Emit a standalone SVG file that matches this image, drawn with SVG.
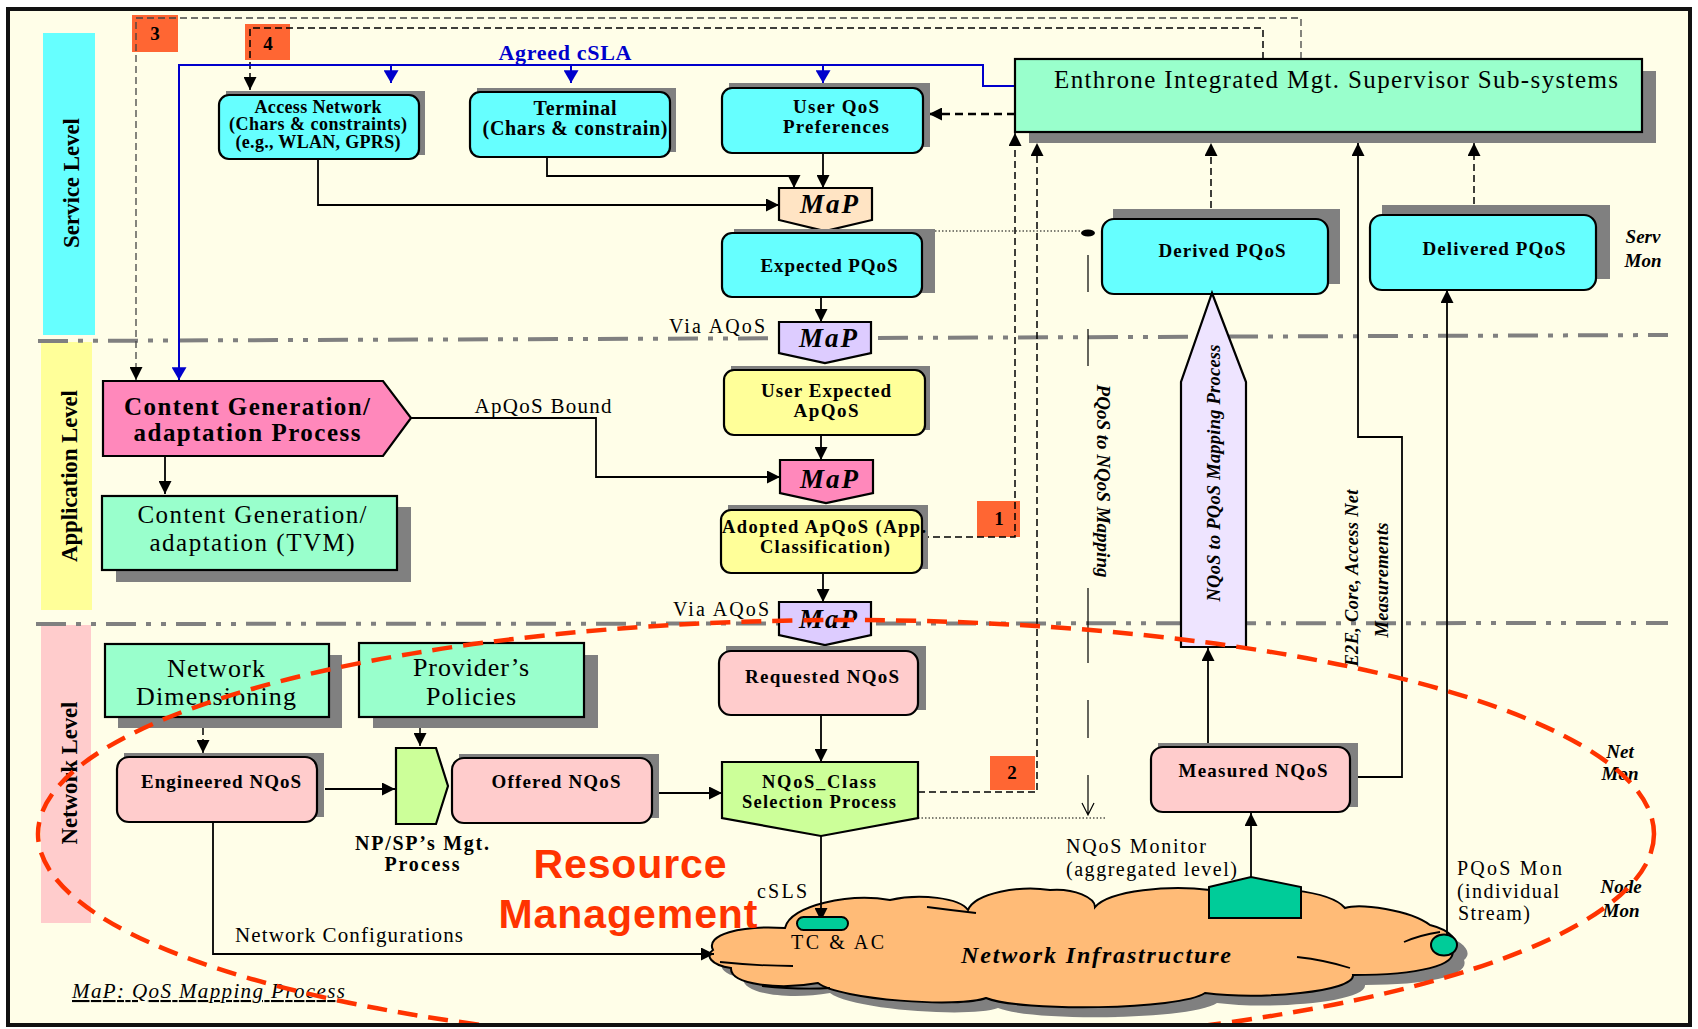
<svg xmlns="http://www.w3.org/2000/svg" width="1698" height="1029" viewBox="0 0 1698 1029">
  <defs>
    <style>
      .f { font-family: "Liberation Serif", "Times New Roman", serif; fill: #000; }
      .c { text-anchor: middle; }
      .b { font-weight: bold; }
      .i { font-style: italic; }
      .box { stroke: #000; stroke-width: 2.2; }
      .shd { fill: #808080; }
      .cy { fill: #66FFFF; }
      .mint { fill: #99FFCC; }
      .yel { fill: #FFFF99; }
      .pnk { fill: #FFCCCC; }
      .grn { fill: #CCFF99; }
      .lav { fill: #DDCCFF; }
      .num { fill: #FF6633; }
      .ln { fill: none; stroke: #000; stroke-width: 1.8; }
      .dsh { fill: none; stroke: #000; stroke-width: 1.5; stroke-dasharray: 7 4; }
      .dshg { fill: none; stroke: #444; stroke-width: 1.3; stroke-dasharray: 7 4; }
      .dsh2 { fill: none; stroke: #000; stroke-width: 2.4; stroke-dasharray: 8 5; }
      .dot { fill: none; stroke: #000; stroke-width: 1.2; stroke-dasharray: 1.5 2; }
      .blu { fill: none; stroke: #0000CC; stroke-width: 2; }
      .sep { fill: none; stroke: #808080; stroke-width: 4; stroke-dasharray: 30 10 5 10 5 10; }
    </style>
    <marker id="ah" viewBox="0 0 12 12" refX="12" refY="6" markerWidth="13" markerHeight="13" markerUnits="userSpaceOnUse" orient="auto">
      <path d="M0,0 L12,6 L0,12 Z" fill="#000"/>
    </marker>
    <marker id="ahb" viewBox="0 0 12 14" refX="12" refY="7" markerWidth="13" markerHeight="15" markerUnits="userSpaceOnUse" orient="auto">
      <path d="M0,0 L12,7 L0,14 Z" fill="#0000CC"/>
    </marker>
    <clipPath id="inner">
      <rect x="9" y="10" width="1680" height="1014"/>
    </clipPath>
    <path id="cloud" d="M713,950 C705,935 740,925 785,928 C790,905 850,893 890,900 C920,893 960,898 968,910 C975,893 1020,885 1050,890 C1075,888 1095,898 1095,907 C1110,890 1170,885 1210,890 C1270,885 1330,890 1345,908 C1360,903 1410,910 1430,925 C1450,930 1462,942 1452,950 C1458,965 1420,975 1353,975 C1355,992 1260,1000 1205,993 C1180,1010 1020,1012 986,998 C960,1008 840,1000 818,983 C780,990 730,985 731,968 C710,965 705,955 713,950 Z"/>
  </defs>

  <!-- page background -->
  <rect x="8" y="9" width="1682" height="1016" fill="#FFFEE8"/>

  <!-- level bands -->
  <g id="levels">
    <rect x="43" y="33" width="52" height="302" fill="#66FFFF"/>
    <rect x="41" y="342" width="51" height="268" fill="#FFFF99"/>
    <rect x="41" y="625" width="50" height="298" fill="#FFCCCC"/>
    <text class="f b c" font-size="23" transform="translate(79,183) rotate(-90)" textLength="130">Service Level</text>
    <text class="f b c" font-size="23" transform="translate(77,476) rotate(-90)" textLength="172">Application Level</text>
    <text class="f b c" font-size="23" transform="translate(77,773) rotate(-90)" textLength="143">Network Level</text>
  </g>

  <!-- level separators -->
  <g id="separators">
    <path class="sep" d="M38,341 L1668,335"/>
    <path class="sep" d="M36,624 L1668,623"/>
  </g>

  <!-- numbered markers -->
  <g id="num-3"><rect class="num" x="132" y="15" width="46" height="37"/><text class="f b c" font-size="19" x="155" y="40">3</text></g>
  <g id="num-4"><rect class="num" x="245" y="24" width="45" height="36"/><text class="f b c" font-size="19" x="268" y="50">4</text></g>
  <g id="num-1"><rect class="num" x="977" y="501" width="43" height="36"/><text class="f b c" font-size="19" x="999" y="525">1</text></g>
  <g id="num-2"><rect class="num" x="990" y="756" width="45" height="34"/><text class="f b c" font-size="19" x="1012" y="779">2</text></g>

  <!-- network infrastructure cloud (under the connectors that reach into it) -->
  <g id="network-infrastructure">
    <use href="#cloud" fill="#808080" transform="translate(12,10)"/>
    <use href="#cloud" fill="#FFBB77" stroke="#000" stroke-width="2"/>
    <path fill="none" stroke="#000" stroke-width="1.8" d="M720,962 Q760,966 793,966 M762,986 Q800,990 830,988 M927,907 Q950,910 976,913 M1297,957 Q1325,960 1350,968 M1404,942 Q1420,935 1440,932"/>
    <text class="f b i c" font-size="24" x="1096" y="963" textLength="270">Network Infrastructure</text>
  </g>

  <!-- connectors -->
  <g id="connectors">
    <path class="dshg" d="M1301,59 V18 H136 V380" marker-end="url(#ah)"/>
    <path class="dsh" d="M1263,59 V28 H250 V90" marker-end="url(#ah)"/>
    <path class="blu" d="M1017,86 H983 V65 H179 V380" marker-end="url(#ahb)"/>
    <path class="blu" d="M391,65 V83" marker-end="url(#ahb)"/>
    <path class="blu" d="M571,65 V83" marker-end="url(#ahb)"/>
    <path class="blu" d="M823,65 V83" marker-end="url(#ahb)"/>
    <path class="dsh2" d="M1015,114 H929" marker-end="url(#ah)"/>
    <path class="dsh" d="M922,537 H1015 V133" marker-end="url(#ah)"/>
    <path class="dsh" d="M918,792 H1037 V143" marker-end="url(#ah)"/>
    <path class="dsh" d="M1211,219 V143" marker-end="url(#ah)"/>
    <path class="dsh" d="M1474,215 V143" marker-end="url(#ah)"/>
    <path class="ln" d="M1350,777 H1402 V437 H1358 V143" marker-end="url(#ah)"/>
    <path class="ln" d="M1447,934 V290" marker-end="url(#ah)"/>
    <path class="ln" d="M1208,747 V648" marker-end="url(#ah)"/>
    <path class="ln" d="M1251,877 V813" marker-end="url(#ah)"/>
    <path class="ln" d="M318,159 V205 H779" marker-end="url(#ah)"/>
    <path class="ln" d="M547,157 V176 H794 V188" marker-end="url(#ah)"/>
    <path class="ln" d="M823,153 V188" marker-end="url(#ah)"/>
    <path class="ln" d="M821,297 V322" marker-end="url(#ah)"/>
    <path class="ln" d="M821,435 V460" marker-end="url(#ah)"/>
    <path class="ln" d="M411,418 H596 V477 H780" marker-end="url(#ah)"/>
    <path class="ln" d="M823,573 V602" marker-end="url(#ah)"/>
    <path class="ln" d="M821,715 V762" marker-end="url(#ah)"/>
    <path class="ln" d="M659,793 H722" marker-end="url(#ah)"/>
    <path class="ln" d="M325,789 H395" marker-end="url(#ah)"/>
    <path class="ln" d="M821,836 V921" marker-end="url(#ah)"/>
    <path class="ln" d="M213,822 V954 H714" marker-end="url(#ah)"/>
    <path class="ln" d="M165,456 V494" marker-end="url(#ah)"/>
    <path class="dsh" d="M203,717 V753" stroke-width="2" marker-end="url(#ah)"/>
    <path class="dsh" d="M420,717 V746" stroke-width="2" marker-end="url(#ah)"/>
    <path class="dot" d="M935,231 H1082"/>
    <ellipse cx="1088" cy="233" rx="7" ry="3.5" fill="#000"/>
    <path class="dot" d="M918,818 H1105"/>
    <path fill="none" stroke="#000" stroke-width="1.2" d="M1088,255 V292 M1088,329 V366 M1088,588 V663 M1088,700 V738 M1088,775 V815 M1082,803 L1088,815 L1094,803"/>
  </g>

  <!-- service level nodes -->
  <g id="access-network">
    <rect class="shd" x="226" y="91" width="199" height="64"/>
    <rect class="cy box" x="219" y="95" width="200" height="64" rx="10"/>
    <text class="f b c" font-size="18" x="318" y="113" textLength="127">Access Network</text>
    <text class="f b c" font-size="18" x="318" y="130" textLength="178">(Chars &amp; constraints)</text>
    <text class="f b c" font-size="18" x="318" y="148" textLength="165">(e.g., WLAN, GPRS)</text>
  </g>
  <g id="terminal">
    <rect class="shd" x="477" y="88" width="199" height="64"/>
    <rect class="cy box" x="470" y="92" width="200" height="65" rx="10"/>
    <text class="f b c" font-size="20" x="575" y="115" textLength="83">Terminal</text>
    <text class="f b c" font-size="20" x="575" y="135" textLength="185">(Chars &amp; constrain)</text>
  </g>
  <g id="user-qos">
    <rect class="shd" x="729" y="83" width="201" height="64"/>
    <rect class="cy box" x="722" y="88" width="201" height="65" rx="10"/>
    <text class="f b c" font-size="19" x="836" y="113" textLength="86">User QoS</text>
    <text class="f b c" font-size="19" x="836" y="133" textLength="106">Preferences</text>
  </g>
  <g id="enthrone">
    <rect class="shd" x="1029" y="71" width="627" height="72"/>
    <rect class="mint box" x="1015" y="59" width="627" height="73"/>
    <text class="f c" font-size="25" x="1336" y="88" textLength="564">Enthrone Integrated Mgt. Supervisor Sub-systems</text>
  </g>
  <g id="map-1">
    <polygon class="box" fill="#FFE4C4" points="779,188 872,188 872,220 825,231 779,220"/>
    <text class="f b i c" font-size="27" x="829" y="213" textLength="58">MaP</text>
  </g>
  <g id="expected-pqos">
    <rect class="shd" x="734" y="229" width="201" height="64"/>
    <rect class="cy box" x="722" y="233" width="200" height="64" rx="10"/>
    <text class="f b c" font-size="19" x="829" y="272" textLength="137">Expected PQoS</text>
  </g>
  <g id="derived-pqos">
    <rect class="shd" x="1113" y="209" width="227" height="75"/>
    <rect class="cy box" x="1102" y="219" width="226" height="75" rx="12"/>
    <text class="f b c" font-size="19" x="1222" y="257" textLength="127">Derived PQoS</text>
  </g>
  <g id="delivered-pqos">
    <rect class="shd" x="1382" y="205" width="228" height="74"/>
    <rect class="cy box" x="1370" y="215" width="226" height="75" rx="12"/>
    <text class="f b c" font-size="19" x="1494" y="255" textLength="143">Delivered PQoS</text>
  </g>
  <g id="map-2">
    <polygon class="lav box" points="779,322 871,322 871,353 825,363 779,353"/>
    <text class="f b i c" font-size="27" x="828" y="347" textLength="58">MaP</text>
  </g>

  <!-- application level nodes -->
  <g id="content-gen-process">
    <polygon class="box" fill="#FF88BB" points="103,381 383,381 411,418 383,456 103,456"/>
    <text class="f b c" font-size="25" x="247" y="415" textLength="246">Content Generation/</text>
    <text class="f b c" font-size="25" x="247" y="441" textLength="227">adaptation Process</text>
  </g>
  <g id="content-gen-tvm">
    <rect class="shd" x="116" y="507" width="295" height="75"/>
    <rect class="mint box" x="102" y="496" width="295" height="74"/>
    <text class="f c" font-size="25" x="252" y="523" textLength="229">Content Generation/</text>
    <text class="f c" font-size="25" x="252" y="551" textLength="205">adaptation (TVM)</text>
  </g>
  <g id="user-expected-apqos">
    <rect class="shd" x="731" y="366" width="199" height="64"/>
    <rect class="yel box" x="724" y="370" width="201" height="65" rx="10"/>
    <text class="f b c" font-size="19" x="826" y="397" textLength="130">User Expected</text>
    <text class="f b c" font-size="19" x="826" y="417" textLength="65">ApQoS</text>
  </g>
  <g id="map-3">
    <polygon class="box" fill="#FF88BB" points="780,460 873,460 873,493 826,503 780,493"/>
    <text class="f b i c" font-size="27" x="829" y="488" textLength="58">MaP</text>
  </g>
  <g id="adopted-apqos">
    <rect class="shd" x="728" y="505" width="200" height="64"/>
    <rect class="yel box" x="721" y="510" width="201" height="63" rx="10"/>
    <text class="f b c" font-size="18.5" x="824" y="533" textLength="204">Adopted ApQoS (App.</text>
    <text class="f b c" font-size="18.5" x="825" y="553" textLength="130">Classification)</text>
  </g>
  <g id="map-4">
    <polygon class="lav box" points="779,602 871,602 871,635 825,645 779,635"/>
    <text class="f b i c" font-size="27" x="828" y="628" textLength="58">MaP</text>
  </g>
  <g id="mapping-arrow">
    <polygon class="box" fill="#EEE4FF" points="1212,293 1246,382 1246,647 1181,647 1181,382"/>
    <text class="f b i c" font-size="18.5" transform="translate(1220,473) rotate(-90)" textLength="257">NQoS to PQoS Mapping Process</text>
  </g>

  <!-- network level nodes -->
  <g id="network-dimensioning">
    <rect class="shd" x="118" y="655" width="224" height="73"/>
    <rect class="mint box" x="105" y="644" width="224" height="73"/>
    <text class="f c" font-size="26" x="216" y="677" textLength="98">Network</text>
    <text class="f c" font-size="26" x="216" y="705" textLength="160">Dimensioning</text>
  </g>
  <g id="providers-policies">
    <rect class="shd" x="373" y="655" width="225" height="73"/>
    <rect class="mint box" x="359" y="643" width="225" height="74"/>
    <text class="f c" font-size="26" x="471" y="676" textLength="116">Provider’s</text>
    <text class="f c" font-size="26" x="471" y="705" textLength="90">Policies</text>
  </g>
  <g id="engineered-nqos">
    <rect class="shd" x="124" y="753" width="200" height="64"/>
    <rect class="pnk box" x="117" y="757" width="200" height="65" rx="12"/>
    <text class="f b c" font-size="19" x="221" y="788" textLength="160">Engineered NQoS</text>
  </g>
  <g id="np-sp-mgt">
    <polygon class="grn box" points="396,748 436,748 448,786 436,824 396,824"/>
    <text class="f b c" font-size="20" x="422" y="850" textLength="134">NP/SP’s Mgt.</text>
    <text class="f b c" font-size="20" x="422" y="871" textLength="75">Process</text>
  </g>
  <g id="offered-nqos">
    <rect class="shd" x="459" y="754" width="200" height="64"/>
    <rect class="pnk box" x="452" y="758" width="200" height="65" rx="12"/>
    <text class="f b c" font-size="19" x="556" y="788" textLength="129">Offered NQoS</text>
  </g>
  <g id="requested-nqos">
    <rect class="shd" x="726" y="646" width="200" height="64"/>
    <rect class="pnk box" x="719" y="651" width="199" height="64" rx="12"/>
    <text class="f b c" font-size="19" x="822" y="683" textLength="154">Requested NQoS</text>
  </g>
  <g id="nqos-class">
    <polygon class="grn box" points="722,762 918,762 918,818 821,836 722,818"/>
    <text class="f b c" font-size="18.5" x="819" y="788" textLength="114">NQoS_Class</text>
    <text class="f b c" font-size="18.5" x="819" y="808" textLength="154">Selection Process</text>
  </g>
  <g id="measured-nqos">
    <rect class="shd" x="1158" y="743" width="200" height="64"/>
    <rect class="pnk box" x="1151" y="747" width="199" height="65" rx="12"/>
    <text class="f b c" font-size="19" x="1253" y="777" textLength="149">Measured NQoS</text>
  </g>
  <g id="tc-ac">
    <rect x="797" y="917" width="51" height="13" rx="6.5" fill="#00CC99" stroke="#000" stroke-width="2"/>
  </g>
  <g id="nqos-monitor">
    <polygon points="1209,887 1251,877 1301,887 1301,918 1209,918" fill="#00CC99" stroke="#000" stroke-width="2"/>
  </g>
  <g id="pqos-monitor">
    <ellipse cx="1444" cy="945" rx="13" ry="10.5" fill="#00CC99" stroke="#000" stroke-width="2"/>
  </g>

  <!-- free labels -->
  <g id="labels">
    <text class="f b c" font-size="22" x="565" y="60" style="fill:#0000CC" textLength="133">Agreed cSLA</text>
    <text class="f c" font-size="20" x="717" y="333" textLength="96">Via AQoS</text>
    <text class="f c" font-size="20" x="721" y="616" textLength="96">Via AQoS</text>
    <text class="f c" font-size="21" x="543" y="413" textLength="137">ApQoS Bound</text>
    <text class="f b i c" font-size="19" transform="translate(1097,481) rotate(90)" textLength="193">PQoS to NQoS Mapping</text>
    <text class="f b i c" font-size="18.5" transform="translate(1358,578) rotate(-90)" textLength="177">E2E, Core, Access Net</text>
    <text class="f b i c" font-size="18.5" transform="translate(1388,580) rotate(-90)" textLength="115">Measurements</text>
    <text class="f b i c" font-size="19" x="1643" y="243">Serv</text>
    <text class="f b i c" font-size="19" x="1643" y="267">Mon</text>
    <text class="f b i c" font-size="19" x="1620" y="758">Net</text>
    <text class="f b i c" font-size="19" x="1620" y="780">Mon</text>
    <text class="f b i c" font-size="19" x="1621" y="893">Node</text>
    <text class="f b i c" font-size="19" x="1621" y="917">Mon</text>
    <text class="f" font-size="20" x="1066" y="853" textLength="140">NQoS Monitor</text>
    <text class="f" font-size="20" x="1066" y="876" textLength="171">(aggregated level)</text>
    <text class="f" font-size="20" x="1457" y="875" textLength="105">PQoS Mon</text>
    <text class="f" font-size="20" x="1457" y="898" textLength="102">(individual</text>
    <text class="f" font-size="20" x="1458" y="920" textLength="72">Stream)</text>
    <text class="f" font-size="20" x="757" y="898" textLength="50">cSLS</text>
    <text class="f" font-size="20" x="791" y="949" textLength="93">TC &amp; AC</text>
    <text class="f" font-size="21" x="235" y="942" textLength="228">Network Configurations</text>
    <text class="f i" font-size="21" x="72" y="998" textLength="273" text-decoration="underline">MaP: QoS Mapping Process</text>
    <text font-family="Liberation Sans, Arial, sans-serif" font-weight="bold" font-size="41" fill="#FF3300" text-anchor="middle" x="630" y="878" textLength="193">Resource</text>
    <text font-family="Liberation Sans, Arial, sans-serif" font-weight="bold" font-size="41" fill="#FF3300" text-anchor="middle" x="628" y="928" textLength="259">Management</text>
  </g>

  <!-- resource management boundary -->
  <g id="resource-boundary" clip-path="url(#inner)">
    <ellipse cx="846" cy="834" rx="808" ry="214" fill="none" stroke="#FF3300" stroke-width="4.5" stroke-dasharray="20 11"/>
  </g>

  <!-- page frame -->
  <rect x="8" y="9" width="1682" height="1016" fill="none" stroke="#111" stroke-width="4"/>
</svg>
